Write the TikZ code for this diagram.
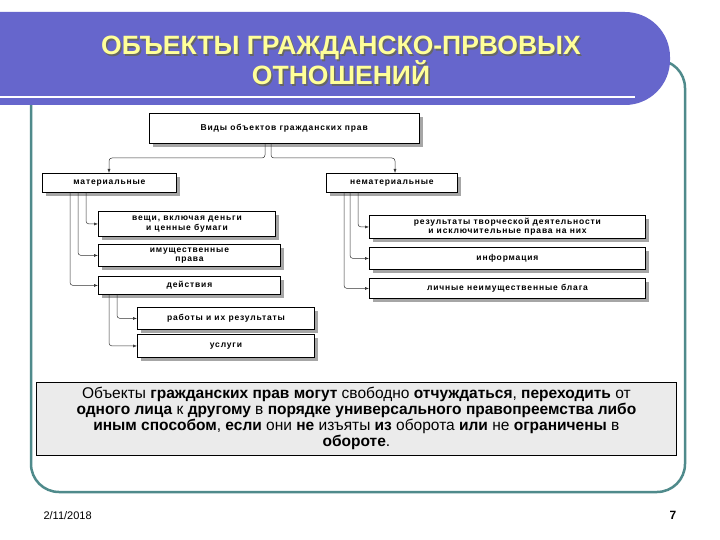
\documentclass[tikz,border=0pt]{standalone}
\usepackage{fontspec}
\setmainfont{Liberation Sans}
\newfontfamily\boxfont[LetterSpace=10]{Liberation Sans}
\usetikzlibrary{arrows.meta}
\definecolor{bar}{HTML}{6666CC}
\definecolor{frame}{HTML}{4F8A8B}
\definecolor{ttl}{HTML}{FFFF99}
\begin{document}
\begin{tikzpicture}[x=1pt,y=-1pt,
  bx/.style={draw=black,line width=0.9pt,fill=white,font=\boxfont\fontsize{8.5}{9.5}\selectfont\bfseries,align=center,anchor=north west,inner sep=1pt},
  con/.style={draw=black!80,line width=0.5pt,rounded corners=3pt},
  ar/.style={con,-{Latex[length=4pt,width=3pt]}}]
\useasboundingbox (0,0) rectangle (720,540);
\fill[white] (0,0) rectangle (720,540);
% frame
\draw[frame,line width=2.5pt,rounded corners=28pt] (31,60) rectangle (685,492);
% title bar
\fill[bar,rounded corners=45pt] (-60,12) rectangle (670,105);
\fill[bar] (-60,12) rectangle (600,105);
\draw[white,line width=1.5pt] (0,97) -- (635,97);
\node[font=\fontsize{26.5}{30}\selectfont\bfseries,text=black!60,align=center] at (342.5,62) {ОБЪЕКТЫ ГРАЖДАНСКО-ПРВОВЫХ\\ОТНОШЕНИЙ};
\node[font=\fontsize{26.5}{30}\selectfont\bfseries,text=ttl,align=center] (title) at (341,60.5) {ОБЪЕКТЫ ГРАЖДАНСКО-ПРВОВЫХ\\ОТНОШЕНИЙ};
% boxes with shadows
\foreach \a/\b/\c/\d in {148.5/113/419/143, 42/173/176/192, 326/173/457/192, 98/211/275/236, 98/244/280/266, 98/276/280/294, 137/307/314/329, 137/334/314/357, 369/215/645/238, 369/247/645/269, 369/278/645/298}
  \fill[black!35] (\a+4,\b+4) rectangle (\c+4,\d+4);
\node[bx,minimum width=270.5pt,minimum height=30pt] (top) at (148.5,113) {Виды объектов гражданских прав};
\node[bx,minimum width=134pt,minimum height=19pt] (mat) at (42,173) {материальные};
\node[bx,minimum width=131pt,minimum height=19pt] (nem) at (326,173) {нематериальные};
\node[bx,minimum width=177pt,minimum height=25pt] (ve) at (98,211) {вещи, включая деньги\\и ценные бумаги};
\node[bx,minimum width=182pt,minimum height=22pt] (im) at (98,244) {имущественные\\права};
\node[bx,minimum width=182pt,minimum height=18pt] (de) at (98,276) {действия};
\node[bx,minimum width=177pt,minimum height=22pt] (ra) at (137,307) {работы и их результаты};
\node[bx,minimum width=177pt,minimum height=23pt] (us) at (137,334) {услуги};
\node[bx,minimum width=276pt,minimum height=23pt] (re) at (369,215) {результаты творческой деятельности\\и исключительные права на них};
\node[bx,minimum width=276pt,minimum height=22pt] (in) at (369,247) {информация};
\node[bx,minimum width=276pt,minimum height=20pt] (li) at (369,278) {личные неимущественные блага};
% connectors
\draw[ar] (top.south -| 265,0) -- (265,158) -- (109,158) -- (mat.north -| 109,0);
\draw[ar] (top.south -| 271,0) -- (271,158) -- (395,158) -- (nem.north -| 395,0);
\draw[ar] (mat.south -| 86,0) |- (ve.west);
\draw[ar] (mat.south -| 78,0) |- (im.west);
\draw[ar] (mat.south -| 70,0) |- (de.west);
\draw[ar] (de.south -| 117,0) |- (ra.west);
\draw[ar] (de.south -| 109,0) |- (us.west);
\draw[ar] (nem.south -| 358,0) |- (re.west);
\draw[ar] (nem.south -| 350,0) |- (in.west);
\draw[ar] (nem.south -| 344,0) |- (li.west);
% text box
\node[draw=black,line width=0.8pt,fill=black!8,minimum width=640pt,minimum height=73pt,anchor=north west,align=center,font=\fontsize{15.5}{16}\selectfont] (txt) at (36,382) {Объекты \textbf{гражданских прав} \textbf{могут} свободно \textbf{отчуждаться}, \textbf{переходить} от\\\textbf{одного лица} к \textbf{другому} в \textbf{порядке универсального правопреемства либо}\\\textbf{иным способом}, \textbf{если} они \textbf{не} изъяты \textbf{из} оборота \textbf{или} не \textbf{ограничены} в\\\textbf{обороте}.};
\node[font=\fontsize{11}{12}\selectfont,anchor=west] (date) at (40,516) {2/11/2018};
\node[font=\fontsize{12}{13}\selectfont\bfseries] (num) at (673,515) {7};
\end{tikzpicture}
\end{document}
